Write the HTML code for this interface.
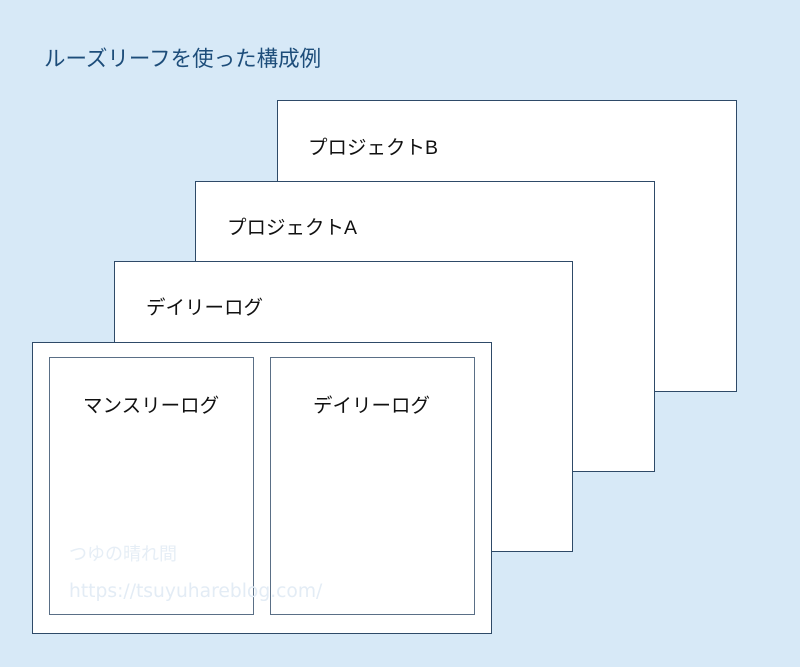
<!DOCTYPE html>
<html><head><meta charset="utf-8"><style>
body{margin:0;width:800px;height:667px;background:#d7e9f7;position:relative;overflow:hidden;font-family:"Liberation Sans","Noto Sans CJK JP",sans-serif}
.r{position:absolute;background:#fff;border:1px solid #2e4a68;box-sizing:border-box}
.t{position:absolute;font-size:19.5px;color:#111;white-space:nowrap;line-height:1}
</style></head><body>
<div class="t" style="left:44px;top:49px;font-size:21.5px;color:#1d4d7a">ルーズリーフを使った構成例</div>
<div class="r" style="left:277px;top:100px;width:460px;height:292px"></div>
<div class="t" style="left:308px;top:139px">プロジェクトB</div>
<div class="r" style="left:195px;top:181px;width:460px;height:291px"></div>
<div class="t" style="left:227px;top:219px">プロジェクトA</div>
<div class="r" style="left:114px;top:261px;width:459px;height:291px"></div>
<div class="t" style="left:146px;top:299px">デイリーログ</div>
<div class="r" style="left:32px;top:342px;width:460px;height:292px"></div>
<div class="r" style="left:49px;top:357px;width:205px;height:258px;border-color:#5a6f86"></div>
<div class="r" style="left:270px;top:357px;width:205px;height:258px;border-color:#5a6f86"></div>
<div class="t" style="left:83px;top:397px">マンスリーログ</div>
<div class="t" style="left:313px;top:397px">デイリーログ</div>
<div class="t" style="left:69px;top:546px;font-size:18px;color:#e6eef6;font-family:'DejaVu Sans','Noto Sans CJK JP',sans-serif">つゆの晴れ間</div>
<div class="t" style="left:69px;top:583px;font-size:18.7px;color:#e3ecf5;font-family:'DejaVu Sans',sans-serif">https://tsuyuhareblog.com/</div>
</body></html>
